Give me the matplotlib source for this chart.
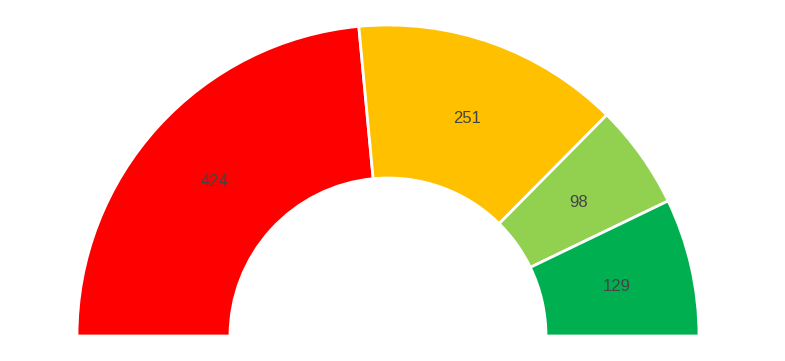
import matplotlib
matplotlib.use("Agg")
import matplotlib.pyplot as plt
import numpy as np

categories = ["A", "B", "C", "D"]
values = [424, 251, 98, 129]
colors = ["#FF0000", "#FFC000", "#92D050", "#00B050"]

W, H = 785, 361
fig = plt.figure(figsize=(W / 100, H / 100), dpi=100)
ax = fig.add_axes([0, 0, 1, 1])

cx, cy = 388, 361 - 336
R = 311
width = 153

total = sum(values)
wedges, _ = ax.pie(values + [total], startangle=180, counterclock=False,
                   radius=R, center=(cx, cy),
                   colors=colors + ["white"],
                   wedgeprops=dict(width=width, edgecolor="white", linewidth=2))
wedges[-1].set_visible(False)

for w, v in zip(wedges[:-1], values):
    mid = np.deg2rad((w.theta1 + w.theta2) / 2)
    rr = R - width / 2
    ax.text(cx + rr * np.cos(mid), cy + rr * np.sin(mid) - 3, str(v),
            ha="center", va="center", fontsize=12, color="#444444",
            family="Liberation Sans")

ax.set_xlim(0, W)
ax.set_ylim(0, H)
ax.set_aspect("equal")
ax.axis("off")
fig.savefig("out.png", dpi=100)
